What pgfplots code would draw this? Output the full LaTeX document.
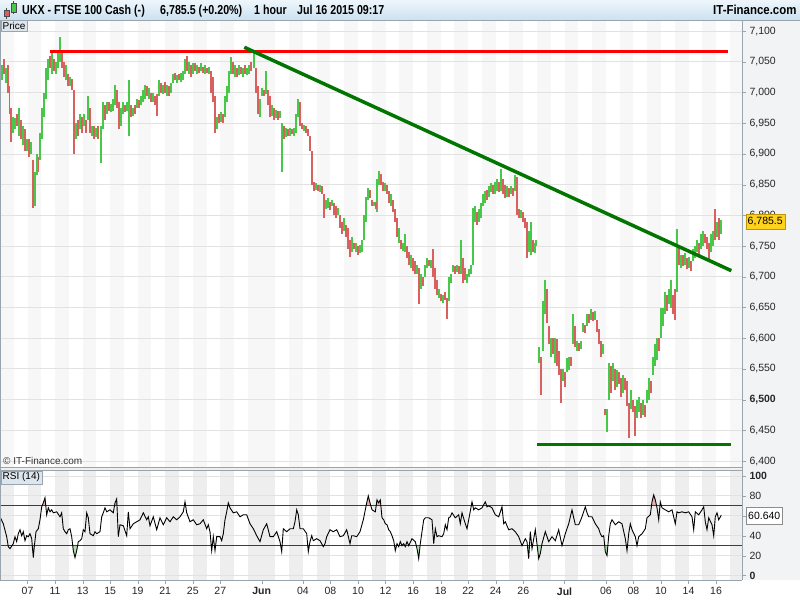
\documentclass[border=0pt]{standalone}
\usepackage{pgfplots}
\pgfplotsset{compat=1.18}
\usepackage{pgfplotstable}
\usepackage{fontspec}
\setmainfont{Liberation Sans}

\definecolor{upg}{RGB}{72,200,72}
\definecolor{dnr}{RGB}{218,96,96}
\definecolor{trendg}{RGB}{0,118,0}
\definecolor{gridc}{RGB}{226,226,226}
\definecolor{bandP}{RGB}{247,247,247}
\definecolor{bandR}{RGB}{238,238,238}
\definecolor{frameclr}{RGB}{152,164,174}
\definecolor{hdrtop}{RGB}{238,246,252}
\definecolor{hdrbot}{RGB}{204,225,240}
\definecolor{boxbg}{RGB}{222,230,237}
\definecolor{rsiblue}{RGB}{40,40,225}
\definecolor{gold}{RGB}{255,210,30}
\definecolor{goldb}{RGB}{190,150,0}
\definecolor{pinkf}{RGB}{232,176,176}
\definecolor{greenf}{RGB}{176,220,176}
\definecolor{sidebg}{RGB}{242,243,245}

% hourly bars, one segment each: low, high, then a break
\pgfplotstableread[row sep=\\]{x y\\
2 7020\\2 7045\\nan nan\\6 7015\\6 7040\\nan nan\\13 6935\\13 6960\\nan nan\\15 6940\\15 6958\\nan nan\\
19 6930\\19 6975\\nan nan\\23 6915\\23 6945\\nan nan\\27 6905\\27 6925\\nan nan\\31 6900\\31 6920\\nan nan\\
35 6815\\35 6870\\nan nan\\37 6865\\37 6900\\nan nan\\40 6890\\40 6935\\nan nan\\42 6925\\42 6975\\nan nan\\
44 6960\\44 7000\\nan nan\\46 6990\\46 7040\\nan nan\\48 7020\\48 7055\\nan nan\\52 7030\\52 7065\\nan nan\\
56 7030\\56 7050\\nan nan\\58 7040\\58 7070\\nan nan\\60 7050\\60 7090\\nan nan\\66 7020\\66 7045\\nan nan\\
70 7010\\70 7025\\nan nan\\76 6925\\76 6950\\nan nan\\80 6940\\80 6965\\nan nan\\84 6945\\84 6965\\nan nan\\
88 6955\\88 6995\\nan nan\\92 6930\\92 6945\\nan nan\\96 6928\\96 6942\\nan nan\\101 6885\\101 6945\\nan nan\\
103 6940\\103 6985\\nan nan\\107 6965\\107 6985\\nan nan\\111 6968\\111 6982\\nan nan\\113 6970\\113 6990\\nan nan\\
115 6980\\115 7012\\nan nan\\121 6945\\121 6975\\nan nan\\123 6965\\123 6985\\nan nan\\127 6970\\127 6985\\nan nan\\
129 6930\\129 7020\\nan nan\\133 6962\\133 6975\\nan nan\\137 6975\\137 6990\\nan nan\\141 6980\\141 6995\\nan nan\\
143 6985\\143 7005\\nan nan\\145 6990\\145 7012\\nan nan\\149 6990\\149 7008\\nan nan\\153 6985\\153 7000\\nan nan\\
159 6995\\159 7020\\nan nan\\163 6998\\163 7012\\nan nan\\167 6995\\167 7012\\nan nan\\171 7000\\171 7015\\nan nan\\
173 7015\\173 7030\\nan nan\\177 7015\\177 7028\\nan nan\\181 7018\\181 7032\\nan nan\\183 7020\\183 7035\\nan nan\\
185 7030\\185 7055\\nan nan\\189 7030\\189 7050\\nan nan\\193 7030\\193 7048\\nan nan\\197 7030\\197 7045\\nan nan\\
201 7035\\201 7048\\nan nan\\205 7030\\205 7045\\nan nan\\209 7030\\209 7042\\nan nan\\217 6940\\217 6960\\nan nan\\
221 6952\\221 6968\\nan nan\\225 6960\\225 6995\\nan nan\\227 6985\\227 7010\\nan nan\\229 7000\\229 7035\\nan nan\\
231 7030\\231 7058\\nan nan\\235 7025\\235 7045\\nan nan\\239 7028\\239 7045\\nan nan\\243 7025\\243 7040\\nan nan\\
247 7028\\247 7040\\nan nan\\249 7030\\249 7045\\nan nan\\254 7040\\254 7070\\nan nan\\260 6960\\260 6990\\nan nan\\
262 6995\\262 7008\\nan nan\\266 6998\\266 7035\\nan nan\\272 6962\\272 6980\\nan nan\\276 6958\\276 6972\\nan nan\\
280 6958\\280 6970\\nan nan\\282 6870\\282 6950\\nan nan\\286 6928\\286 6942\\nan nan\\290 6930\\290 6942\\nan nan\\
294 6930\\294 6942\\nan nan\\296 6935\\296 6965\\nan nan\\298 6960\\298 6990\\nan nan\\304 6938\\304 6948\\nan nan\\
316 6842\\316 6852\\nan nan\\320 6838\\320 6850\\nan nan\\326 6810\\326 6825\\nan nan\\328 6812\\328 6828\\nan nan\\
332 6815\\332 6825\\nan nan\\338 6800\\338 6812\\nan nan\\344 6775\\344 6795\\nan nan\\352 6740\\352 6765\\nan nan\\
356 6740\\356 6755\\nan nan\\360 6738\\360 6752\\nan nan\\362 6740\\362 6760\\nan nan\\364 6760\\364 6800\\nan nan\\
366 6790\\366 6830\\nan nan\\368 6825\\368 6845\\nan nan\\374 6815\\374 6822\\nan nan\\377 6805\\377 6860\\nan nan\\
379 6850\\379 6872\\nan nan\\385 6840\\385 6852\\nan nan\\391 6815\\391 6835\\nan nan\\399 6755\\399 6780\\nan nan\\
403 6742\\403 6755\\nan nan\\405 6740\\405 6770\\nan nan\\411 6715\\411 6735\\nan nan\\417 6705\\417 6720\\nan nan\\
421 6680\\421 6705\\nan nan\\425 6700\\425 6720\\nan nan\\427 6715\\427 6730\\nan nan\\431 6715\\431 6728\\nan nan\\
439 6665\\439 6680\\nan nan\\443 6658\\443 6670\\nan nan\\449 6660\\449 6700\\nan nan\\451 6690\\451 6705\\nan nan\\
453 6708\\453 6720\\nan nan\\457 6708\\457 6720\\nan nan\\461 6705\\461 6760\\nan nan\\467 6690\\467 6705\\nan nan\\
469 6700\\469 6712\\nan nan\\471 6705\\471 6720\\nan nan\\473 6720\\473 6812\\nan nan\\475 6790\\475 6815\\nan nan\\
479 6790\\479 6810\\nan nan\\481 6795\\481 6820\\nan nan\\483 6815\\483 6835\\nan nan\\485 6820\\485 6840\\nan nan\\
489 6830\\489 6848\\nan nan\\491 6838\\491 6852\\nan nan\\495 6835\\495 6855\\nan nan\\497 6840\\497 6860\\nan nan\\
501 6840\\501 6875\\nan nan\\507 6830\\507 6848\\nan nan\\511 6835\\511 6848\\nan nan\\515 6840\\515 6865\\nan nan\\
521 6795\\521 6808\\nan nan\\529 6740\\529 6775\\nan nan\\531 6735\\531 6790\\nan nan\\535 6738\\535 6755\\nan nan\\
536 6750\\536 6760\\nan nan\\539 6560\\539 6585\\nan nan\\543 6580\\543 6660\\nan nan\\545 6640\\545 6695\\nan nan\\
551 6570\\551 6600\\nan nan\\555 6560\\555 6600\\nan nan\\563 6530\\563 6550\\nan nan\\567 6545\\567 6568\\nan nan\\
569 6548\\569 6570\\nan nan\\573 6590\\573 6640\\nan nan\\577 6580\\577 6595\\nan nan\\581 6582\\581 6595\\nan nan\\
583 6610\\583 6625\\nan nan\\587 6620\\587 6640\\nan nan\\591 6630\\591 6648\\nan nan\\595 6630\\595 6645\\nan nan\\
603 6575\\603 6590\\nan nan\\607 6448\\607 6485\\nan nan\\609 6500\\609 6560\\nan nan\\613 6530\\613 6560\\nan nan\\
617 6520\\617 6548\\nan nan\\623 6510\\623 6540\\nan nan\\631 6485\\631 6515\\nan nan\\637 6470\\637 6500\\nan nan\\
639 6480\\639 6505\\nan nan\\643 6475\\643 6500\\nan nan\\647 6495\\647 6515\\nan nan\\649 6500\\649 6535\\nan nan\\
653 6540\\653 6570\\nan nan\\655 6555\\655 6590\\nan nan\\657 6565\\657 6600\\nan nan\\661 6600\\661 6650\\nan nan\\
663 6620\\663 6650\\nan nan\\665 6640\\665 6675\\nan nan\\669 6655\\669 6680\\nan nan\\671 6650\\671 6695\\nan nan\\
677 6675\\677 6778\\nan nan\\681 6715\\681 6735\\nan nan\\685 6720\\685 6738\\nan nan\\689 6715\\689 6732\\nan nan\\
693 6725\\693 6745\\nan nan\\695 6730\\695 6750\\nan nan\\697 6740\\697 6760\\nan nan\\701 6745\\701 6770\\nan nan\\
703 6750\\703 6775\\nan nan\\711 6740\\711 6770\\nan nan\\713 6750\\713 6775\\nan nan\\717 6765\\717 6790\\nan nan\\
721 6770\\721 6792\\nan nan\\
}\upbars

\pgfplotstableread[row sep=\\]{x y\\
4 7030\\4 7055\\nan nan\\8 7000\\8 7045\\nan nan\\9.5 6965\\9.5 7010\\nan nan\\11 6920\\11 6975\\nan nan\\
17 6945\\17 6965\\nan nan\\21 6925\\21 6955\\nan nan\\25 6905\\25 6940\\nan nan\\29 6895\\29 6925\\nan nan\\
33 6812\\33 6890\\nan nan\\38.5 6870\\38.5 6895\\nan nan\\50 7040\\50 7060\\nan nan\\54 7035\\54 7055\\nan nan\\
62 7040\\62 7065\\nan nan\\64 7025\\64 7050\\nan nan\\68 7010\\68 7030\\nan nan\\72 7005\\72 7022\\nan nan\\
74 6900\\74 7005\\nan nan\\78 6930\\78 6955\\nan nan\\82 6935\\82 6960\\nan nan\\86 6935\\86 6955\\nan nan\\
90 6935\\90 6975\\nan nan\\94 6925\\94 6945\\nan nan\\98 6925\\98 6945\\nan nan\\105 6955\\105 6980\\nan nan\\
109 6970\\109 6985\\nan nan\\117 6975\\117 7005\\nan nan\\119 6940\\119 6985\\nan nan\\125 6968\\125 6980\\nan nan\\
131 6960\\131 6980\\nan nan\\135 6965\\135 6980\\nan nan\\139 6975\\139 6988\\nan nan\\147 6995\\147 7010\\nan nan\\
151 6985\\151 7000\\nan nan\\155 6980\\155 6995\\nan nan\\157 6962\\157 6998\\nan nan\\161 7000\\161 7015\\nan nan\\
165 7000\\165 7018\\nan nan\\169 6995\\169 7010\\nan nan\\175 7020\\175 7032\\nan nan\\179 7020\\179 7030\\nan nan\\
187 7035\\187 7060\\nan nan\\191 7025\\191 7045\\nan nan\\195 7035\\195 7048\\nan nan\\199 7032\\199 7042\\nan nan\\
203 7032\\203 7042\\nan nan\\207 7032\\207 7040\\nan nan\\211 7000\\211 7035\\nan nan\\213 6985\\213 7025\\nan nan\\
215 6935\\215 6995\\nan nan\\219 6950\\219 6965\\nan nan\\223 6950\\223 6965\\nan nan\\233 7030\\233 7050\\nan nan\\
237 7025\\237 7040\\nan nan\\241 7030\\241 7042\\nan nan\\245 7030\\245 7045\\nan nan\\251 7035\\251 7050\\nan nan\\
256 7000\\256 7040\\nan nan\\258 6965\\258 7010\\nan nan\\264 6995\\264 7005\\nan nan\\268 6980\\268 7005\\nan nan\\
270 6960\\270 6995\\nan nan\\274 6955\\274 6975\\nan nan\\278 6955\\278 6970\\nan nan\\284 6925\\284 6945\\nan nan\\
288 6930\\288 6940\\nan nan\\292 6932\\292 6940\\nan nan\\300 6945\\300 6985\\nan nan\\302 6940\\302 6950\\nan nan\\
306 6935\\306 6945\\nan nan\\308 6930\\308 6940\\nan nan\\310 6905\\310 6930\\nan nan\\312 6850\\312 6905\\nan nan\\
314 6840\\314 6855\\nan nan\\318 6840\\318 6850\\nan nan\\322 6835\\322 6848\\nan nan\\324 6795\\324 6835\\nan nan\\
330 6808\\330 6822\\nan nan\\334 6800\\334 6820\\nan nan\\336 6795\\336 6815\\nan nan\\340 6780\\340 6800\\nan nan\\
342 6770\\342 6790\\nan nan\\346 6765\\346 6785\\nan nan\\348 6745\\348 6780\\nan nan\\350 6732\\350 6760\\nan nan\\
354 6745\\354 6755\\nan nan\\358 6735\\358 6750\\nan nan\\370 6828\\370 6842\\nan nan\\372 6815\\372 6825\\nan nan\\
376 6810\\376 6822\\nan nan\\381 6850\\381 6868\\nan nan\\383 6840\\383 6855\\nan nan\\387 6835\\387 6850\\nan nan\\
389 6820\\389 6840\\nan nan\\393 6805\\393 6825\\nan nan\\395 6790\\395 6810\\nan nan\\397 6765\\397 6795\\nan nan\\
401 6745\\401 6760\\nan nan\\407 6730\\407 6750\\nan nan\\409 6720\\409 6740\\nan nan\\413 6710\\413 6730\\nan nan\\
415 6705\\415 6725\\nan nan\\419 6655\\419 6715\\nan nan\\423 6685\\423 6700\\nan nan\\429 6718\\429 6728\\nan nan\\
433 6700\\433 6745\\nan nan\\435 6680\\435 6715\\nan nan\\437 6670\\437 6695\\nan nan\\441 6660\\441 6672\\nan nan\\
445 6662\\445 6675\\nan nan\\447 6632\\447 6665\\nan nan\\455 6705\\455 6718\\nan nan\\459 6705\\459 6718\\nan nan\\
463 6690\\463 6730\\nan nan\\465 6695\\465 6715\\nan nan\\477 6785\\477 6805\\nan nan\\487 6825\\487 6842\\nan nan\\
493 6835\\493 6850\\nan nan\\499 6838\\499 6855\\nan nan\\503 6835\\503 6860\\nan nan\\505 6828\\505 6850\\nan nan\\
509 6830\\509 6845\\nan nan\\513 6832\\513 6845\\nan nan\\517 6800\\517 6862\\nan nan\\519 6795\\519 6810\\nan nan\\
523 6790\\523 6805\\nan nan\\525 6780\\525 6795\\nan nan\\527 6730\\527 6790\\nan nan\\533 6740\\533 6760\\nan nan\\
541 6508\\541 6570\\nan nan\\547 6625\\547 6680\\nan nan\\549 6590\\549 6620\\nan nan\\553 6575\\553 6600\\nan nan\\
557 6555\\557 6598\\nan nan\\559 6540\\559 6580\\nan nan\\561 6495\\561 6550\\nan nan\\565 6520\\565 6545\\nan nan\\
571 6555\\571 6570\\nan nan\\575 6585\\575 6620\\nan nan\\579 6580\\579 6592\\nan nan\\585 6608\\585 6622\\nan nan\\
589 6625\\589 6640\\nan nan\\593 6628\\593 6642\\nan nan\\597 6610\\597 6630\\nan nan\\599 6590\\599 6615\\nan nan\\
601 6570\\601 6595\\nan nan\\605 6475\\605 6485\\nan nan\\611 6510\\611 6555\\nan nan\\615 6515\\615 6550\\nan nan\\
619 6525\\619 6545\\nan nan\\621 6505\\621 6535\\nan nan\\625 6515\\625 6535\\nan nan\\627 6490\\627 6530\\nan nan\\
629 6437\\629 6495\\nan nan\\633 6480\\633 6500\\nan nan\\635 6440\\635 6490\\nan nan\\641 6470\\641 6495\\nan nan\\
645 6472\\645 6492\\nan nan\\651 6510\\651 6530\\nan nan\\659 6580\\659 6600\\nan nan\\667 6645\\667 6670\\nan nan\\
673 6640\\673 6670\\nan nan\\675 6630\\675 6680\\nan nan\\679 6720\\679 6748\\nan nan\\683 6718\\683 6735\\nan nan\\
687 6712\\687 6730\\nan nan\\691 6710\\691 6725\\nan nan\\699 6735\\699 6755\\nan nan\\705 6755\\705 6770\\nan nan\\
707 6745\\707 6765\\nan nan\\709 6725\\709 6755\\nan nan\\715 6760\\715 6810\\nan nan\\719 6760\\719 6795\\nan nan\\
}\downbars

\pgfplotstableread[row sep=\\]{x rsi\\
0 59\\3.3 52\\6.7 39\\8.3 29\\10 27\\13.3 32\\15 39\\16.7 34\\18.3 42\\20 46\\21.7 40\\23.3 44\\25 35\\
26.7 40\\28.3 39\\30 42\\31.7 37\\33.3 18\\34.3 29\\36 44\\38.3 47\\40 56\\41.7 69\\43.3 73\\45 78\\46.7 61\\
48.3 68\\50 64\\51.7 66\\53.3 63\\56.7 64\\60 59\\61.7 63\\63.3 47\\65 44\\66.7 42\\68.3 46\\70 47\\71.7 39\\
73.3 25\\75 18\\76.7 25\\78.3 34\\80 35\\81.7 37\\83.3 46\\85 44\\86.7 63\\88.3 58\\90 42\\93.3 40\\95 44\\
96.7 42\\100 44\\101.7 59\\103.3 63\\105 68\\106.7 64\\110 66\\113.3 63\\115 73\\116.7 77\\118.3 39\\120 51\\
123.3 50\\126.7 40\\128.3 64\\130 47\\133.3 52\\136.7 54\\140 56\\143.3 63\\146.7 56\\148.3 59\\150 50\\
153.3 59\\156.7 46\\160 58\\163.3 51\\166.7 58\\170 54\\173.3 59\\176.7 56\\180 59\\183.3 64\\185 74\\
186.7 63\\190 54\\193.3 56\\196.7 51\\200 52\\203.3 56\\206.7 47\\208.3 51\\210 44\\211.7 25\\213.3 39\\
215 25\\216.7 39\\220 39\\221.7 35\\223.3 42\\225 56\\226.7 64\\228.3 73\\230 68\\233.3 63\\236.7 64\\
240 59\\243.3 61\\246.7 61\\250 52\\253.3 47\\256.7 40\\260 34\\263.3 46\\266.7 52\\270 39\\273.3 39\\
276.7 44\\280 34\\281.7 24\\283.3 47\\286.7 44\\290 47\\293.3 47\\295 54\\296.7 66\\298.3 61\\300 47\\
303.3 47\\306.7 42\\308.3 24\\310 34\\311.7 40\\313.3 35\\316.7 37\\320 35\\323.3 29\\325 32\\326.7 39\\
330 46\\333.3 44\\336.7 46\\340 39\\343.3 40\\346.7 46\\350 32\\351.7 40\\353.3 40\\356.7 39\\360 44\\
363.3 56\\366.7 73\\368.3 80\\370 73\\372 66\\375.3 64\\377 76\\378.7 73\\380.3 76\\382 58\\383.7 56\\
385.3 52\\387 51\\388.7 46\\390.3 44\\392 40\\393.7 35\\395.3 25\\397 32\\398.7 29\\400.3 34\\402 30\\
403.7 32\\405.3 29\\407 34\\408.7 30\\412 37\\415.3 34\\417 27\\418.7 17\\420.3 32\\422 44\\423.7 56\\
425.3 58\\428.7 58\\432 56\\433.7 32\\435.3 47\\437 39\\438.7 40\\442 39\\443.7 42\\445.3 51\\447 46\\
448.7 58\\450.3 59\\452 63\\455.3 58\\458.7 61\\460.3 52\\462 63\\465.3 52\\467 47\\468.7 56\\472 74\\
473.7 66\\475.3 68\\478.7 66\\482 68\\485.3 74\\487 69\\488.7 70\\492 68\\495.3 61\\498.7 59\\502 69\\
503.7 52\\505.3 54\\508.7 46\\512 47\\515.3 44\\518.7 39\\522 30\\525.3 37\\527 34\\528.7 17\\530.3 44\\
532 27\\535.3 46\\538.7 17\\540.3 22\\542 32\\545.3 44\\548.7 34\\552 39\\555.3 35\\558.7 46\\562 30\\
565.3 42\\568.7 52\\572 66\\573.7 58\\575.3 51\\578.7 51\\582 59\\585.3 69\\587 63\\588.7 59\\592 59\\
595.3 52\\598.7 47\\600.3 42\\602 39\\603.7 40\\605.3 24\\607 20\\608.7 40\\610.3 52\\612 56\\615.3 51\\
618.7 54\\622 52\\625.3 37\\627 25\\628.7 42\\630.3 52\\632 46\\635.3 39\\637 30\\638.7 39\\642 42\\
645.3 47\\647 58\\650.3 61\\652 74\\653.7 81\\655.3 76\\657 68\\658.7 56\\660.3 74\\662 68\\665.3 66\\
668.7 64\\672 66\\675.3 52\\677 64\\678.7 63\\682 64\\685.3 63\\688.7 64\\692 59\\693.7 46\\695.3 64\\
698.7 61\\702 66\\703.7 69\\705.3 54\\707 46\\708.7 58\\712 51\\713.7 40\\715.3 59\\717 63\\718.7 56\\
721.3 60.64\\
}\rsidata

\begin{document}
\begin{tikzpicture}[x=1pt,y=1pt]
\useasboundingbox (0,0) rectangle (800,600);
\fill[white] (0,0) rectangle (800,600);
\fill[sidebg] (742,20) rectangle (800,580);
% absolute anchor points for the two panels
\coordinate (pricecorner) at (0,133);
\coordinate (rsicorner) at (0,20);

% day bands
\begin{scope}
\clip (0,0) rectangle (742,600);
\foreach \d in {0,2,...,18}{
  \fill[bandP] ({13.77*\d},133) rectangle ({13.77*\d+13.77},580);
  \fill[bandR] ({13.77*\d},20) rectangle ({13.77*\d+13.77},130);}
\foreach \d in {19,21,...,53}{
  \fill[bandP] ({13.77*\d},133) rectangle ({13.77*\d+13.77},580);
  \fill[bandR] ({13.77*\d},20) rectangle ({13.77*\d+13.77},130);}
\end{scope}
\fill[black!6] (0,130) rectangle (742,133);

% price panel
\begin{axis}[
  at={(pricecorner)}, anchor=south west, scale only axis,
  width=742pt, height=447pt,
  xmin=0, xmax=742,
  ymin=6390.3, ymax=7118.2,
  axis x line*=bottom, axis y line*=right,
  xtick=\empty,
  axis line style={frameclr},
  ytick={6400,6450,6500,6550,6600,6650,6700,6750,6800,6850,6900,6950,7000,7050,7100},
  yticklabels={{6,400},{6,450},{\textbf{6,500}},{6,550},{6,600},{6,650},{6,700},{6,750},{6,800},{6,850},{6,900},{6,950},{7,000},{7,050},{7,100}},
  ymajorgrids, grid style={gridc, line width=0.9pt},
  tick align=outside, major tick length=4pt,
  ytick style={frameclr},
  yticklabel style={font=\fontsize{10.5}{12}\selectfont, text=black!85, anchor=west},
  unbounded coords=jump, filter discard warning=false,
]
\addplot[upg, line width=1.5pt] table[x=x, y=y] {\upbars};
\addplot[dnr, line width=1.5pt] table[x=x, y=y] {\downbars};
% drawn trend lines
\addplot[red, line width=3pt] coordinates {(50,7067.4) (728,7067.4)};
\addplot[trendg, line width=3.5pt] coordinates {(244.3,7073.8) (731.3,6710)};
\addplot[trendg, line width=3.5pt] coordinates {(537,6427.3) (731,6427.3)};
\end{axis}

% RSI panel
\begin{axis}[
  at={(rsicorner)}, anchor=south west, scale only axis,
  width=742pt, height=110pt,
  xmin=0, xmax=742, ymin=-4.5, ymax=106,
  axis x line*=bottom, axis y line*=right,
  axis line style={frameclr},
  xtick={27.54,55.08,82.62,110.16,137.7,165.24,192.78,220.32,261.63,302.94,330.48,358.02,385.56,413.1,440.64,468.18,495.72,523.26,564.57,605.88,633.42,660.96,688.5,716.04},
  xticklabels={07,11,13,15,19,21,25,27,\textbf{Jun},04,08,10,12,16,18,22,24,26,\textbf{Jul},06,08,10,14,16},
  ytick={0,20,40,60,80,100},
  yticklabels={\textbf{0},20,40,{},80,\textbf{100}},
  ymajorgrids, grid style={gridc, line width=0.9pt},
  tick align=outside, major tick length=4pt,
  tick style={frameclr},
  xticklabel style={font=\fontsize{10.5}{12}\selectfont, text=black!85},
  yticklabel style={font=\fontsize{10.5}{12}\selectfont, text=black!85, anchor=west},
]
\addplot[fill=pinkf, draw=none] coordinates {(41.3,70) (43.3,73) (45,78) (46.2,70)};
\addplot[fill=pinkf, draw=none] coordinates {(114.5,70) (115,73) (116.7,77) (117.5,70)};
\addplot[fill=pinkf, draw=none] coordinates {(366.2,70) (366.7,73) (368.3,80) (370,73) (370.8,70)};
\addplot[fill=pinkf, draw=none] coordinates {(376.2,70) (377,76) (378.7,73) (380.3,76) (381,70)};
\addplot[fill=pinkf, draw=none] coordinates {(651.5,70) (652,74) (653.7,81) (655.3,76) (656.3,70)};
\addplot[fill=greenf, draw=none] coordinates {(32.5,30) (33.3,18) (34.1,30)};
\addplot[fill=greenf, draw=none] coordinates {(72.8,30) (73.3,25) (75,18) (76.7,25) (77.4,30)};
\addplot[fill=greenf, draw=none] coordinates {(417.3,30) (418.7,17) (419.5,30)};
\addplot[fill=greenf, draw=none] coordinates {(528,30) (528.7,17) (529.5,30)};
\addplot[fill=greenf, draw=none] coordinates {(537.5,30) (538.7,17) (540.3,22) (541.3,30)};
\addplot[fill=greenf, draw=none] coordinates {(604.6,30) (605.3,24) (607,20) (608.2,30)};
\addplot[rsiblue, line width=1pt] coordinates {(0,70) (742,70)};
\addplot[rsiblue, line width=1pt] coordinates {(0,30) (742,30)};
\addplot[black, line width=0.9pt] table[x=x, y=rsi] {\rsidata};
\end{axis}

% frame lines
\draw[frameclr] (0.5,20) -- (0.5,580);
\draw[frameclr] (0,133) -- (742,133);
\draw[frameclr] (0,130) -- (742,130);
\draw[frameclr] (742,20) -- (742,580);

% header
\shade[top color=hdrtop, bottom color=hdrbot] (0,580) rectangle (800,600);
\draw[frameclr] (0,580) -- (800,580);
\draw[black!70, line width=0.6pt] (6.5,581) -- (6.5,592);
\fill[dnr, draw=black!70, line width=0.4pt] (4,583.5) rectangle (9,590);
\draw[black!70, line width=0.6pt] (13.5,586) -- (13.5,599);
\fill[upg, draw=black!70, line width=0.4pt] (11,588) rectangle (16,596.5);
\begin{scope}[every node/.style={anchor=base west, inner sep=0pt, font=\fontsize{13}{15}\selectfont\bfseries}]
\node at (22,585) {\scalebox{0.82}[1]{UKX - FTSE 100 Cash (-)}};
\node at (160,585) {\scalebox{0.82}[1]{6,785.5 (+0.20\%)}};
\node at (254,585) {\scalebox{0.82}[1]{1 hour}};
\node at (297,585) {\scalebox{0.82}[1]{Jul 16 2015 09:17}};
\node at (713,585) {\scalebox{0.88}[1]{IT-Finance.com}};
\end{scope}

% panel captions
\node[draw=frameclr, fill=boxbg, anchor=north west, inner xsep=2pt, inner ysep=1.5pt,
  font=\fontsize{10}{12}\selectfont] at (0.5,579.5) {Price};
\node[draw=frameclr, fill=boxbg, anchor=north west, inner xsep=2pt, inner ysep=2pt,
  font=\fontsize{10}{12}\selectfont] at (0.5,129.5) {RSI (14)};
\node[anchor=west, inner sep=0pt, text=black!80, font=\fontsize{10}{12}\selectfont] at (3,139) {\textcopyright\ IT-Finance.com};

% last values
\node[anchor=west, fill=gold, draw=goldb, inner xsep=2pt, inner ysep=1pt, minimum height=15pt,
  font=\fontsize{10.5}{12}\selectfont] at (745.5,378.4) {6,785.5};
\node[anchor=west, fill=white, draw=black!45, inner xsep=2pt, inner ysep=1pt, minimum height=17pt,
  font=\fontsize{10.5}{12}\selectfont] at (746,84.3) {60.640};
\end{tikzpicture}
\end{document}
